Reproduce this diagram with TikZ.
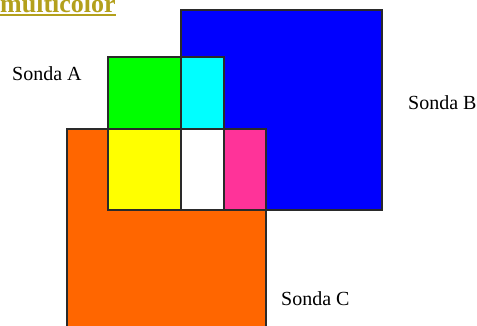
\documentclass[tikz,border=0pt]{standalone}
\usepackage{fontspec}
\setmainfont{Liberation Serif}
\usepackage{xcolor}
\definecolor{Title}{HTML}{B3A01C}
\definecolor{Edge}{HTML}{2A2A2A}
\definecolor{ProbeB}{HTML}{0000FF}
\definecolor{ProbeA}{HTML}{00FF00}
\definecolor{ProbeC}{HTML}{FF6600}
\definecolor{MixAB}{HTML}{00FFFF}
\definecolor{MixAC}{HTML}{FFFF00}
\definecolor{MixBC}{HTML}{FF3399}
\usepackage{tikz}
\usetikzlibrary{positioning}
\tikzset{
  probe/.style={draw=Edge,line width=1.3pt},
  label/.style={font=\fontsize{20}{22}\selectfont,text=black,inner sep=0pt,anchor=base west},
  heading/.style={font=\fontsize{26}{28}\selectfont\bfseries,text=Title,inner sep=0pt,anchor=base west}
}

\begin{document}
\begin{tikzpicture}[x=1pt,y=-1pt]
\useasboundingbox (0,0) rectangle (477,326);
\clip (0,0) rectangle (477,326);
% probe squares
\fill[ProbeB] (181,10) rectangle (382,210);
\fill[ProbeA] (108,57) rectangle (224,210);
\fill[ProbeC] (67,129) rectangle (266,340);
% overlaps
\fill[MixAB] (181,57) rectangle (224,129);
\fill[MixAC] (108,129) rectangle (181,210);
\fill[MixBC] (224,129) rectangle (266,210);
\fill[white] (181,129) rectangle (224,210);
% outlines
\draw[probe] (181,10) rectangle (382,210);
\draw[probe] (108,57) rectangle (224,210);
\draw[probe] (67,129) rectangle (266,340);
% texts
\node[heading] (title) at (0,12.5) {multicolor};
\draw[Title,line width=1.3pt] ([yshift=-2.5pt]title.base west) -- ([yshift=-2.5pt]title.base east);
\node[label] (sondaA) at (12,80.5) {Sonda A};
\node[label] (sondaB) at (408,110) {Sonda B};
\node[label] (sondaC) at (281,305.5) {Sonda C};
\end{tikzpicture}
\end{document}
